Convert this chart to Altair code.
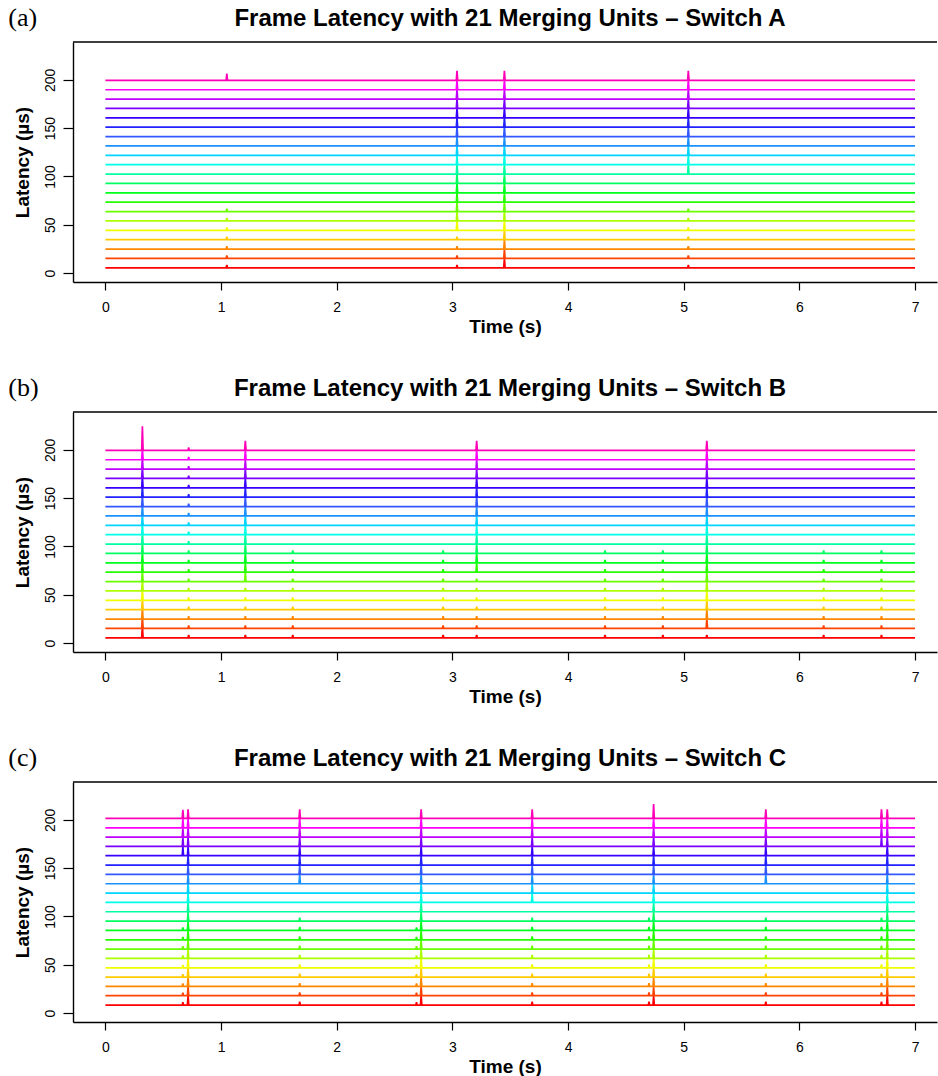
import altair as alt
import pandas as pd

# ---------------- data ----------------
series_names = [f"MU{i + 1}" for i in range(21)]
series_colors = ["#FF0000", "#FF4300", "#FF8700", "#FFCA00", "#F1FF00", "#ADFF00",
                 "#6AFF00", "#27FF00", "#00FF1D", "#00FF60", "#00FFA3", "#00FFE7",
                 "#00D4FF", "#1A91FF", "#3358FF", "#2222FF", "#3900FF", "#7C00FF",
                 "#C000FF", "#FF00FB", "#FF00B8"]

panel_tags = ["(a)", "(b)", "(c)"]
panel_titles = ["Frame Latency with 21 Merging Units \u2013 Switch A",
                "Frame Latency with 21 Merging Units \u2013 Switch B",
                "Frame Latency with 21 Merging Units \u2013 Switch C"]

x_ticks = [0, 1, 2, 3, 4, 5, 6, 7]
y_ticks = [0, 50, 100, 150, 200]

T_START, T_END = 0.0, 7.0

# baseline latency of each unit's trace (µs), bottom to top
levels_a = [5.5, 15.2, 24.9, 34.6, 44.3, 54.0, 63.7, 73.4, 83.1, 92.8, 102.5,
            112.2, 121.9, 131.6, 141.3, 151.0, 160.7, 170.4, 180.1, 189.8, 199.5]
levels_b = [5.5, 15.2, 24.9, 34.6, 44.3, 54.0, 63.7, 73.4, 83.1, 92.8, 102.5,
            112.2, 121.9, 131.6, 141.3, 151.0, 160.7, 170.4, 180.1, 189.8, 199.5]
levels_c = [8.3, 18.0, 27.6, 37.3, 46.9, 56.6, 66.3, 75.9, 85.6, 95.2, 104.9,
            114.6, 124.2, 133.9, 143.5, 153.2, 162.9, 172.5, 182.2, 191.8, 201.5]

# latency spikes: (time s, first unit index, last unit index, spike height µs)
events_a = [(1.05, 0, 6, 3), (1.05, 20, 20, 7),
            (3.04, 0, 3, 3), (3.04, 4, 20, 10),
            (3.45, 0, 20, 10),
            (5.04, 0, 6, 3), (5.04, 10, 20, 10)]
events_b = [(0.32, 0, 19, 12), (0.32, 20, 20, 25),
            (0.72, 0, 20, 3),
            (1.21, 0, 5, 3), (1.21, 6, 20, 10),
            (1.62, 0, 9, 3),
            (2.92, 0, 9, 3),
            (3.21, 0, 6, 3), (3.21, 7, 20, 10),
            (4.32, 0, 9, 3),
            (4.82, 0, 9, 3),
            (5.20, 0, 0, 3), (5.20, 1, 20, 10),
            (6.21, 0, 9, 3),
            (6.71, 0, 9, 3)]
events_c = [(0.67, 0, 8, 3), (0.67, 16, 20, 9),
            (0.715, 0, 20, 9.5),
            (1.68, 0, 9, 3.5), (1.68, 13, 20, 9.5),
            (2.69, 0, 8, 3),
            (2.73, 0, 20, 9.5),
            (3.69, 0, 9, 3.5), (3.69, 11, 20, 9.5),
            (4.70, 0, 9, 3.5),
            (4.74, 0, 19, 9.5), (4.74, 20, 20, 15),
            (5.71, 0, 9, 3.5), (5.71, 13, 20, 9.5),
            (6.71, 0, 9, 3.5), (6.71, 17, 20, 9.5),
            (6.76, 0, 20, 9.5)]

SPIKE_HALF_WIDTH = 0.006

# ---------------- layout ----------------
W, H = 864, 240
X_DOMAIN = [-0.28, 7.19]
Y_DOMAIN = [-9.2, 239.2]
FONT = "Liberation Sans"


def build_frame(levels, events):
    recs = []
    for i, name in enumerate(series_names):
        base = levels[i]
        spikes = sorted((t, h) for (t, lo, hi, h) in events if lo <= i <= hi)
        pts = [(T_START, base)]
        for t, h in spikes:
            pts += [(t - SPIKE_HALF_WIDTH, base), (t, base + h), (t + SPIKE_HALF_WIDTH, base)]
        pts.append((T_END, base))
        for k, (t, v) in enumerate(pts):
            recs.append({"series": name, "time": t, "latency": v, "idx": k})
    return pd.DataFrame(recs)


def panel(tag, title, levels, events):
    df = build_frame(levels, events)
    lines = alt.Chart(df).mark_line(strokeWidth=1.7, clip=True).encode(
        x=alt.X("time:Q",
                scale=alt.Scale(domain=X_DOMAIN, nice=False, zero=False),
                axis=alt.Axis(values=x_ticks, title="Time (s)", format="d",
                              tickSize=8, labelPadding=10, titlePadding=3)),
        y=alt.Y("latency:Q",
                scale=alt.Scale(domain=Y_DOMAIN, nice=False, zero=False),
                axis=alt.Axis(values=y_ticks, title="Latency (\u00b5s)", format="d",
                              tickSize=10, labelAngle=270, labelAlign="center",
                              labelBaseline="bottom", labelPadding=6, titlePadding=11)),
        color=alt.Color("series:N",
                        scale=alt.Scale(domain=series_names, range=series_colors),
                        legend=None),
        order=alt.Order("idx:Q"),
    )
    one = pd.DataFrame({"tag": [tag], "title": [title]})
    top = alt.Chart(one).mark_rule(color="black", strokeWidth=1.4).encode(
        x=alt.value(0), x2=alt.value(W), y=alt.value(0))
    tag_text = alt.Chart(one).mark_text(
        font="Liberation Serif", fontSize=26, align="left", baseline="middle",
        color="black").encode(text="tag:N", x=alt.value(-64.7), y=alt.value(-24))
    title_text = alt.Chart(one).mark_text(
        font=FONT, fontSize=24, fontWeight="bold", align="center", baseline="middle",
        color="black").encode(text="title:N", x=alt.value(W / 2 + 5), y=alt.value(-23))
    return alt.layer(lines, top, tag_text, title_text).properties(width=W, height=H)


chart = alt.vconcat(
    panel(panel_tags[0], panel_titles[0], levels_a, events_a),
    panel(panel_tags[1], panel_titles[1], levels_b, events_b),
    panel(panel_tags[2], panel_titles[2], levels_c, events_c),
    spacing=130, bounds="flush",
).properties(
    padding={"left": 8, "top": 5, "right": 0, "bottom": 0},
    background="white",
).configure_view(strokeWidth=0).configure_axis(
    grid=False, domainColor="black", domainWidth=1.4, tickColor="black",
    tickWidth=1.2, labelColor="black", labelFont=FONT, labelFontSize=14,
    titleColor="black", titleFont=FONT, titleFontSize=19, titleFontWeight="bold",
)

chart.save("out.html", embed_options={"renderer": "svg", "actions": False})
